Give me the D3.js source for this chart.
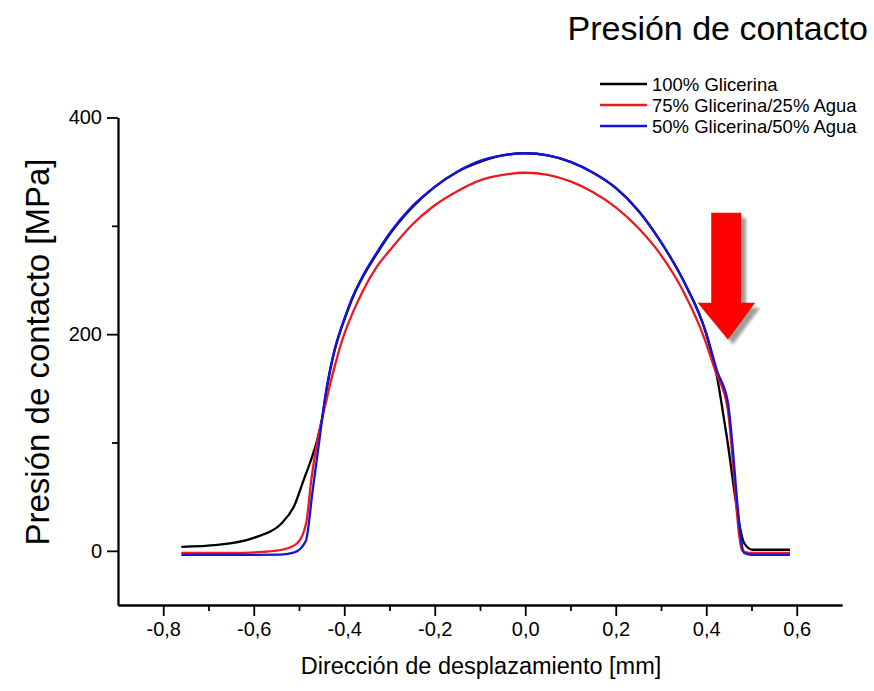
<!DOCTYPE html>
<html>
<head>
<meta charset="utf-8">
<script src="https://cdn.jsdelivr.net/npm/d3@7"></script>
<style>
  html, body { margin: 0; padding: 0; background: #fff; }
  svg { display: block; font-family: "Liberation Sans", Arial, sans-serif; }
</style>
</head>
<body>
<svg id="chart" width="874" height="691"></svg>
<script>
// Contact pressure profiles [x (mm), p (MPa)] for the three lubricants
const glycerin100 = [
  [-0.76, 3.7], [-0.68, 5.5], [-0.60, 12], [-0.537, 26], [-0.51, 42], [-0.49, 65],
  [-0.475, 82], [-0.46, 102], [-0.45, 120], [-0.44, 146], [-0.43, 169], [-0.42, 187],
  [-0.41, 201], [-0.40, 213], [-0.38, 235], [-0.36, 252], [-0.33, 273], [-0.30, 292],
  [-0.25, 317], [-0.20, 336], [-0.15, 350], [-0.10, 359], [-0.05, 365], [0.00, 367],
  [0.05, 365], [0.10, 359], [0.15, 349], [0.20, 335], [0.25, 314], [0.30, 285],
  [0.35, 249], [0.40, 200], [0.424, 160], [0.444, 109], [0.484, 7], [0.502, 1], [0.585, 1]
];
const glycerin75 = [
  [-0.76, -2], [-0.65, -2], [-0.58, -1], [-0.537, 1], [-0.504, 7], [-0.484, 26],
  [-0.473, 65], [-0.46, 100], [-0.45, 120], [-0.44, 138], [-0.43, 156], [-0.42, 172],
  [-0.41, 187], [-0.40, 200], [-0.38, 221], [-0.36, 239], [-0.33, 261], [-0.30, 277],
  [-0.25, 301], [-0.20, 319], [-0.15, 332], [-0.10, 342], [-0.05, 347], [0.00, 349],
  [0.05, 347], [0.10, 341], [0.15, 331], [0.20, 317], [0.25, 298], [0.30, 273],
  [0.35, 239], [0.396, 196], [0.42, 166], [0.447, 132], [0.48, 0], [0.495, -2], [0.585, -2]
];
const glycerin50 = [
  [-0.76, -3.7], [-0.70, -3.7], [-0.60, -3.7], [-0.54, -3.5], [-0.51, -1.5], [-0.485, 9],
  [-0.47, 55], [-0.455, 102], [-0.45, 118], [-0.44, 148], [-0.43, 170], [-0.42, 188],
  [-0.41, 202], [-0.40, 214], [-0.38, 236], [-0.36, 253], [-0.33, 274], [-0.30, 293],
  [-0.25, 318], [-0.20, 336], [-0.15, 350], [-0.10, 360], [-0.05, 365], [0.00, 367],
  [0.05, 365], [0.10, 359], [0.15, 349], [0.20, 335], [0.25, 314], [0.30, 285],
  [0.35, 249], [0.40, 201], [0.424, 166], [0.447, 139], [0.484, -2], [0.50, -3.7], [0.585, -3.7]
];

const seriesNames = ["100% Glicerina", "75% Glicerina/25% Agua", "50% Glicerina/50% Agua"];
const seriesColors = ["#000000", "#ec1a1f", "#1414dc"];

const xMajorTicks = [-0.8, -0.6, -0.4, -0.2, 0.0, 0.2, 0.4, 0.6];
const xMinorTicks = [-0.7, -0.5, -0.3, -0.1, 0.1, 0.3, 0.5];
const yMajorTicks = [0, 200, 400];
const yMinorTicks = [100, 300];

// Arrow marking the outlet region, in data units
const arrowShape = [
  [0.411, 312], [0.477, 312], [0.477, 229], [0.508, 229],
  [0.448, 195], [0.381, 229], [0.411, 229]
];

const titleText = "Presión de contacto";
const xLabel = "Dirección de desplazamiento [mm]";
const yLabel = "Presión de contacto [MPa]";

const svg = d3.select("#chart");
svg.append("rect").attr("width", 874).attr("height", 691).attr("fill", "#fff");

const x = d3.scaleLinear().domain([-0.9, 0.7]).range([118, 842]);
const y = d3.scaleLinear().domain([-50, 400]).range([605, 117.5]);

const fmt = v => d3.format(".1f")(v).replace(".", ",").replace("\u2212", "-");

// Axes
const axisStyle = g => {
  g.selectAll("path, line").attr("stroke", "#000").attr("stroke-width", 1.8);
  g.selectAll("text").attr("fill", "#000").style("font-family", "Liberation Sans, Arial, sans-serif");
};

svg.append("g")
  .attr("transform", `translate(0,${y(-50)})`)
  .call(d3.axisBottom(x).tickValues(xMinorTicks).tickSize(6).tickSizeOuter(0).tickFormat(""))
  .call(axisStyle);
svg.append("g")
  .attr("transform", `translate(0,${y(-50)})`)
  .call(d3.axisBottom(x).tickValues(xMajorTicks).tickSize(11).tickSizeOuter(0).tickPadding(6).tickFormat(fmt))
  .call(axisStyle)
  .call(g => g.selectAll("text").style("font-size", "20px"));

svg.append("g")
  .attr("transform", `translate(${x(-0.9)},0)`)
  .call(d3.axisLeft(y).tickValues(yMinorTicks).tickSize(6).tickSizeOuter(0).tickFormat(""))
  .call(axisStyle);
svg.append("g")
  .attr("transform", `translate(${x(-0.9)},0)`)
  .call(d3.axisLeft(y).tickValues(yMajorTicks).tickSize(11).tickSizeOuter(0).tickPadding(5).tickFormat(d3.format("d")))
  .call(axisStyle)
  .call(g => g.selectAll("text").style("font-size", "20px"));

// Curves
const line = d3.line()
  .x(d => x(d[0]))
  .y(d => y(d[1]))
  .curve(d3.curveMonotoneX);

[glycerin100, glycerin75, glycerin50].forEach((data, i) => {
  svg.append("path")
    .datum(data)
    .attr("fill", "none")
    .attr("stroke", seriesColors[i])
    .attr("stroke-width", 2.3)
    .attr("stroke-linejoin", "round")
    .attr("d", line);
});

// Arrow with drop shadow
const arrowPath = d3.line().x(d => x(d[0])).y(d => y(d[1]));
const defs = svg.append("defs");
defs.append("filter").attr("id", "soft")
  .append("feGaussianBlur").attr("stdDeviation", 1.5);
svg.append("path")
  .datum(arrowShape)
  .attr("d", d => arrowPath(d) + "Z")
  .attr("fill", "#8c8c8c")
  .attr("opacity", 0.85)
  .attr("filter", "url(#soft)")
  .attr("transform", "translate(5,5)");
svg.append("path")
  .datum(arrowShape)
  .attr("d", d => arrowPath(d) + "Z")
  .attr("fill", "#ff0000");

// Legend
const legend = svg.append("g").attr("transform", "translate(600,84)");
seriesNames.forEach((name, i) => {
  const row = legend.append("g").attr("transform", `translate(0,${i * 21})`);
  row.append("line")
    .attr("x1", 0).attr("x2", 47).attr("y1", 0).attr("y2", 0)
    .attr("stroke", seriesColors[i]).attr("stroke-width", 2.3);
  row.append("text")
    .attr("x", 52).attr("y", 6.5)
    .style("font-size", "18.5px")
    .attr("fill", "#000")
    .text(name);
});

// Titles
svg.append("text")
  .attr("x", 868).attr("y", 40)
  .attr("text-anchor", "end")
  .style("font-size", "34px")
  .attr("fill", "#000")
  .text(titleText);

svg.append("text")
  .attr("x", 481).attr("y", 674)
  .attr("text-anchor", "middle")
  .style("font-size", "23.5px")
  .attr("fill", "#000")
  .text(xLabel);

svg.append("text")
  .attr("transform", "translate(49,352) rotate(-90)")
  .attr("text-anchor", "middle")
  .style("font-size", "33px")
  .attr("fill", "#000")
  .text(yLabel);
</script>
</body>
</html>
